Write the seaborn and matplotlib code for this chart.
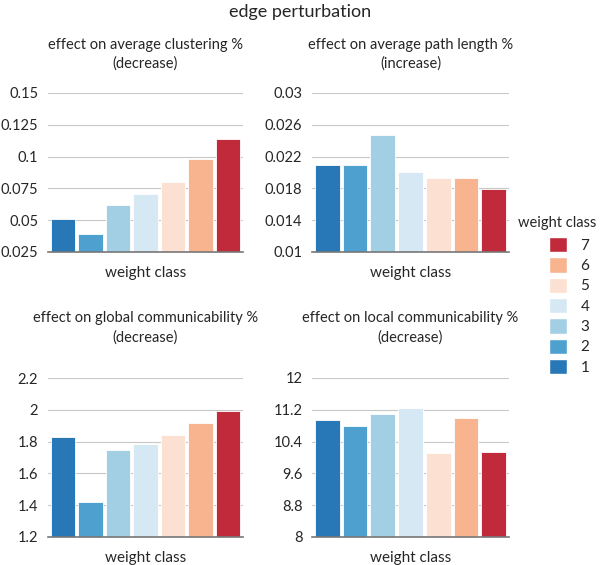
import matplotlib
matplotlib.use("Agg")
import matplotlib.pyplot as plt
import matplotlib.patches as mpatches
from matplotlib.ticker import FuncFormatter
import pandas as pd
import seaborn as sns

sns.set_style("white")
plt.rcParams['font.family'] = ['Lato', 'DejaVu Sans']

# weight classes and their colours
classes = ['1', '2', '3', '4', '5', '6', '7']
colors = ['#2878b8', '#4ea1cf', '#a3cfe4', '#d6e8f3', '#fce0d2', '#f8b48f', '#c12a3a']

# values
clustering = [0.051, 0.039, 0.062, 0.0704, 0.080, 0.0983, 0.114]
path_length = [0.0209, 0.0209, 0.0247, 0.0201, 0.0193, 0.0193, 0.0179]
global_comm = [1.831, 1.418, 1.747, 1.785, 1.842, 1.919, 1.994]
local_comm = [10.94, 10.79, 11.09, 11.24, 10.11, 11.00, 10.15]

titles = ['effect on average clustering %\n(decrease)',
          'effect on average path length %\n(increase)',
          'effect on global communicability %\n(decrease)',
          'effect on local communicability %\n(decrease)']
yticks = [[0.025, 0.05, 0.075, 0.1, 0.125, 0.15],
          [0.01, 0.014, 0.018, 0.022, 0.026, 0.03],
          [1.2, 1.4, 1.6, 1.8, 2.0, 2.2],
          [8, 8.8, 9.6, 10.4, 11.2, 12]]
series = [clustering, path_length, global_comm, local_comm]

W, H = 600, 565
fig = plt.figure(figsize=(W / 100, H / 100), dpi=100)

# axes boxes in pixels: left, top, right, bottom
boxes = [(48, 93, 243, 252), (312, 93, 509, 252),
         (48, 378, 243, 537), (312, 378, 509, 537)]
title_pads = [18, 18, 26, 26]

palette = dict(zip(classes, colors))
for box, vals, title, ticks, tpad in zip(boxes, series, titles, yticks, title_pads):
    l, t, r, b = box
    ax = fig.add_axes([l / W, 1 - b / H, (r - l) / W, (b - t) / H])
    df = pd.DataFrame({'weight class': classes, 'value': vals})
    sns.barplot(data=df, x='weight class', y='value', hue='weight class',
                palette=palette, saturation=1, width=0.9, legend=False, ax=ax,
                edgecolor='white', linewidth=0.6)
    ax.set_ylim(ticks[0], ticks[-1])
    ax.set_xlim(-0.55, 6.55)
    ax.set_yticks(ticks)
    ax.yaxis.set_major_formatter(FuncFormatter(lambda v, p: '{:g}'.format(round(v, 4))))
    ax.set_xticks([])
    ax.set_ylabel('')
    ax.set_xlabel('weight class', fontsize=11, labelpad=10)
    ax.set_title(title, fontsize=10.5, pad=tpad, linespacing=1.45)
    ax.grid(axis='y', color='#c8c8c8', linewidth=0.8)
    ax.set_axisbelow(True)
    for s in ['top', 'right', 'left']:
        ax.spines[s].set_visible(False)
    ax.spines['bottom'].set_color('#777777')
    ax.spines['bottom'].set_linewidth(1.2)
    ax.tick_params(axis='y', length=0, labelsize=10.5, pad=7)

fig.text(0.5, 1 - 12 / H, 'edge perturbation', ha='center', va='center', fontsize=13)

# legend, title drawn on its own so the patches line up as in the reference
fig.text(557 / W, 1 - 223 / H, 'weight class', ha='center', va='center', fontsize=10.5)
handles = [mpatches.Patch(facecolor=c, edgecolor='white', label=k)
           for k, c in zip(classes[::-1], colors[::-1])]
fig.legend(handles=handles, loc='upper left',
           bbox_to_anchor=(549 / W, 1 - 237 / H), frameon=False,
           borderpad=0, borderaxespad=0,
           fontsize=11, handlelength=1.15, handleheight=1.15,
           labelspacing=0.3, handletextpad=0.9)

fig.savefig('out.png', dpi=100)
